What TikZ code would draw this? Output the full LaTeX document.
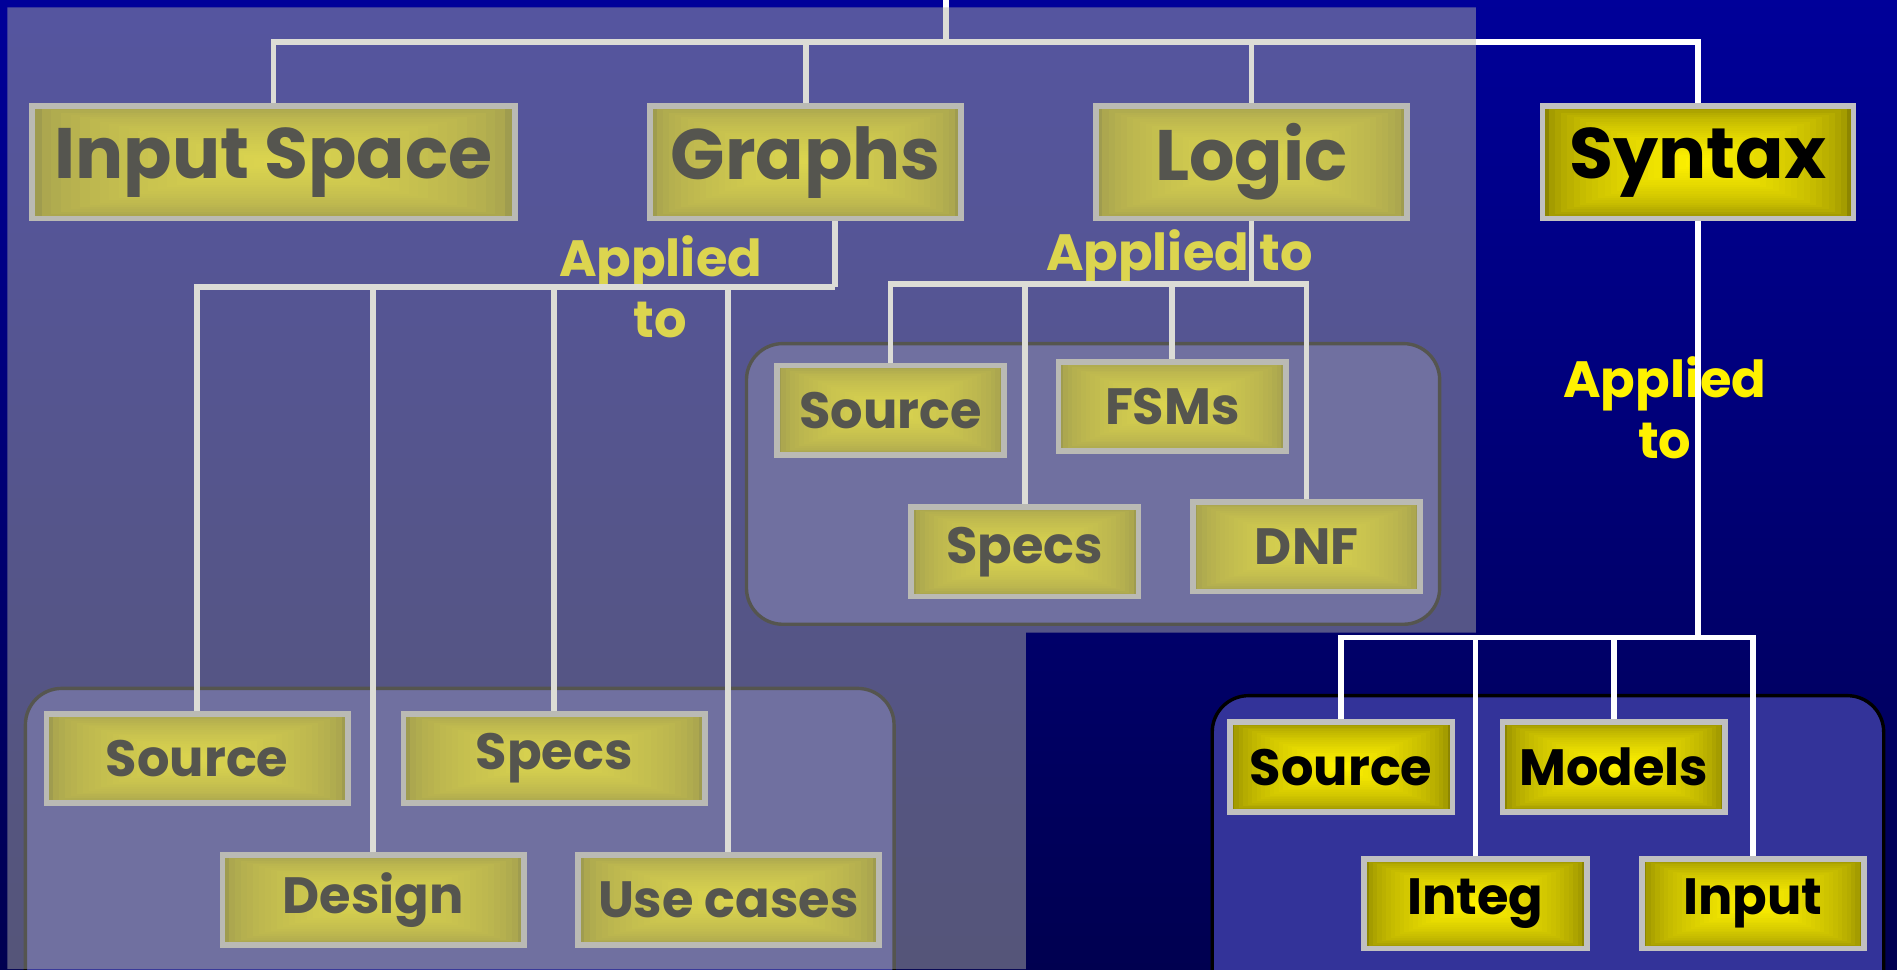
\documentclass[tikz,border=0pt]{standalone}
\usepackage{fontspec}
\setmainfont{Poppins}
\usepackage{tikz}
\usetikzlibrary{calc}

\definecolor{skytop}{RGB}{0,0,153}
\definecolor{skymid}{RGB}{0,0,102}
\definecolor{skybot}{RGB}{0,0,80}
\definecolor{panelblue}{RGB}{51,51,153}
\definecolor{frame}{RGB}{192,192,192}
\definecolor{haze}{RGB}{181,181,168}

\tikzset{
  glow/.style={path picture={
      \foreach \k in {0,...,24}{
        \pgfmathtruncatemacro\tint{100*sqrt(\k/24)}
        \pgfmathsetmacro\shrink{1-\k/25}
        \fill[yellow!\tint!olive]
          ($(path picture bounding box.center)!\shrink!(path picture bounding box.south west)$)
          rectangle
          ($(path picture bounding box.center)!\shrink!(path picture bounding box.north east)$);
      }}},
  topbox/.style={rectangle, draw=frame, line width=1.35pt, glow, minimum width=25.7mm, minimum height=9.3mm, inner sep=0pt, font=\fontsize{16.8}{20}\selectfont\bfseries, text=black},
  leafbox/.style={rectangle, draw=frame, line width=1.35pt, glow, minimum width=#1, minimum height=7.4mm, inner sep=0pt, font=\fontsize{12}{14}\selectfont\bfseries, text=black},
  panel/.style={draw=black, line width=0.8pt, fill=panelblue, rounded corners=3mm},
  wire/.style={draw=white, line width=1.35pt},
  note/.style={text=yellow, align=center, inner sep=0pt, font=\fontsize{12}{14.5}\selectfont\bfseries}
}

\begin{document}
\begin{tikzpicture}[x=0.1mm, y=-0.1mm]
    % Backdrop
    \shade[top color=skytop, middle color=skymid, bottom color=skybot] (0,0) rectangle (1568,801);
    \useasboundingbox (0,0) rectangle (1568,801);

    % Groups
    \draw[panel] (617,284) rectangle (1190,516);
    \draw[panel] (21,569) rectangle (739,840);
    \draw[panel] (1002,575) rectangle (1557,840);

    % Criteria
    \node[topbox, minimum width=39.9mm] (inspace) at (226,134) {Input Space};
    \node[topbox] (graphs) at (666,134) {Graphs};
    \node[topbox] (logic) at (1034.5,134) {Logic};
    \node[topbox] (syntax) at (1403.5,134) {Syntax};

    % Graphs applied to
    \node[leafbox=24.9mm] (gsource) at (163,627) {Source};
    \node[leafbox=24.9mm] (gspecs) at (458,627) {Specs};
    \node[leafbox=24.9mm] (gdesign) at (308.5,744) {Design};
    \node[leafbox=24.9mm] (gusecases) at (602,744) {Use cases};

    % Logic applied to
    \node[leafbox=18.8mm] (lsource) at (736,339) {Source};
    \node[leafbox=18.8mm] (lfsms) at (969,336) {FSMs};
    \node[leafbox=18.8mm] (lspecs) at (847,456) {Specs};
    \node[leafbox=18.8mm] (ldnf) at (1080,452) {DNF};

    % Syntax applied to
    \node[leafbox=18.4mm] (ssource) at (1108.5,634) {Source};
    \node[leafbox=18.4mm] (smodels) at (1334,634) {Models};
    \node[leafbox=18.4mm] (sinteg) at (1219.5,747) {Integ};
    \node[leafbox=18.4mm] (sinput) at (1449,747) {Input};

    % Labels
    \node[note] (gnote) at (546,237) {Applied\\to};
    \node[note] (lnote) at (975,212) {Applied to};
    \node[note] (snote) at (1376,337) {Applied\\to};

    % Wiring
    \coordinate (root) at (782,0);
    \coordinate (hub) at (782,35);
    \coordinate (gbus) at (690,237);
    \coordinate (lbus) at (1034.5,235);
    \coordinate (sbus) at (1403.5,527);

    \draw[wire] (root) -- (hub);
    \foreach \n in {inspace,graphs,logic,syntax}
        \draw[wire] (hub) -| (\n);
    \draw[wire] (graphs.south -| gbus) -- (gbus);
    \foreach \n in {gsource,gdesign,gspecs,gusecases}
        \draw[wire] (gbus) -| (\n);
    \draw[wire] (logic) -- (lbus);
    \foreach \n in {lsource,lspecs,lfsms,ldnf}
        \draw[wire] (lbus) -| (\n);
    \draw[wire] (syntax) -- (sbus);
    \foreach \n in {ssource,sinteg,smodels,sinput}
        \draw[wire] (sbus) -| (\n);

    % Tinted veil over the left part
    \fill[haze, fill opacity=0.47] (6,6) -- (1220,6) -- (1220,523) -- (848,523) -- (848,801) -- (6,801) -- cycle;
\end{tikzpicture}
\end{document}
